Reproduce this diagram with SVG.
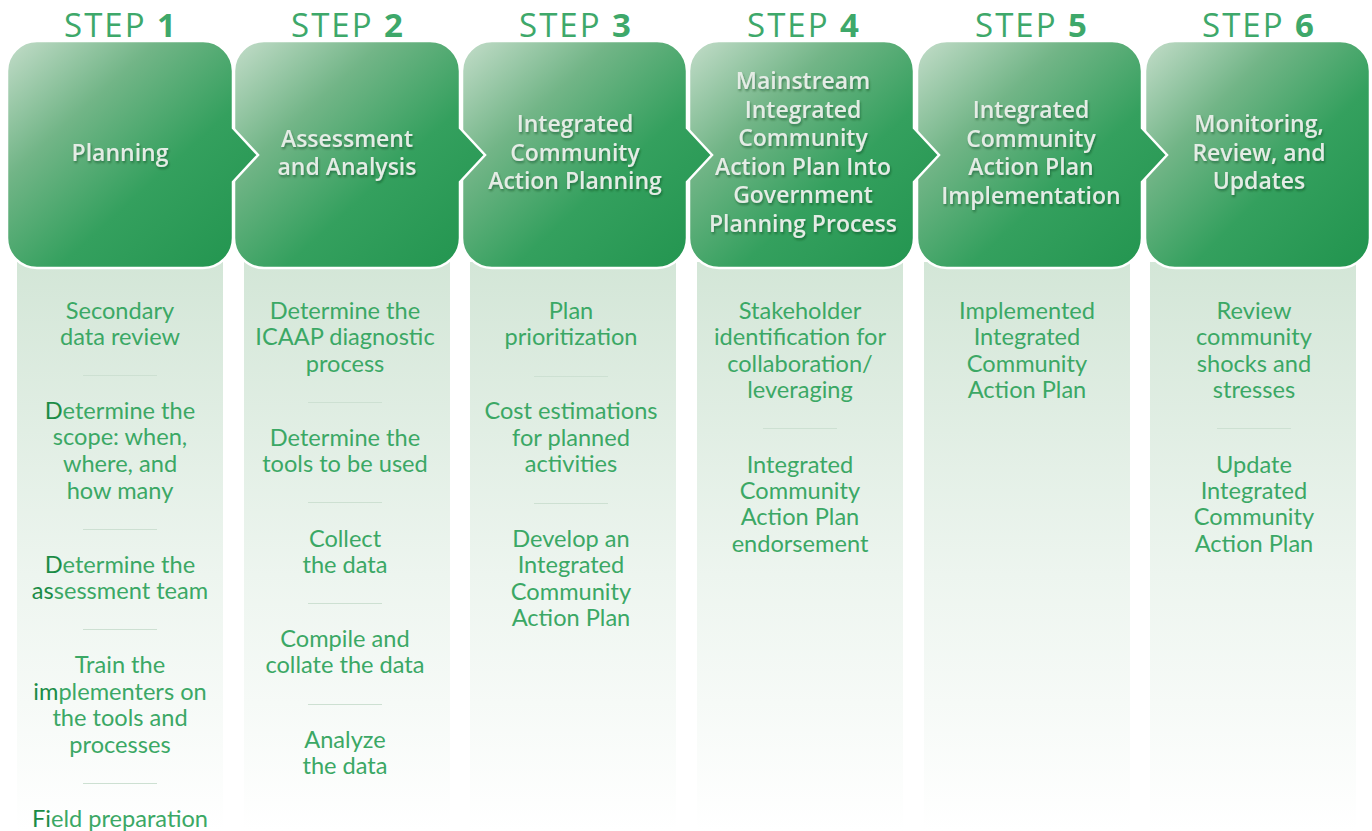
<svg xmlns="http://www.w3.org/2000/svg" width="1372" height="831" viewBox="0 0 1372 831">
  <defs>
    <linearGradient id="boxFill" x1="0" y1="0" x2="1" y2="1">
      <stop offset="0" stop-color="#c4ddca"/>
      <stop offset="0.3" stop-color="#72b587"/>
      <stop offset="0.6" stop-color="#34a05e"/>
      <stop offset="1" stop-color="#21944e"/>
    </linearGradient>
    <linearGradient id="colFill" x1="0" y1="0" x2="0" y2="1">
      <stop offset="0" stop-color="#d3e6d7"/>
      <stop offset="0.55" stop-color="#edf5ef"/>
      <stop offset="1" stop-color="#ffffff"/>
    </linearGradient>
    <filter id="textShadow" x="-10%" y="-20%" width="120%" height="150%">
      <feDropShadow dx="1" dy="2" stdDeviation="1.2" flood-color="#0b3b1c" flood-opacity="0.45"/>
    </filter>
  </defs>
  <style>
    .step { font-family: "Open Sans", "Noto Sans", sans-serif; font-size: 33px; letter-spacing: 2px; fill: #3ea86a; text-anchor: middle; }
    .step .num { font-weight: 700; }
    .box { fill: url(#boxFill); stroke: #ffffff; stroke-width: 2.5; stroke-linejoin: miter; }
    .title { font-family: "Open Sans", "Noto Sans", sans-serif; font-weight: 600; font-size: 23px; fill: #e4ece5; text-anchor: middle; filter: url(#textShadow); }
    .col { fill: url(#colFill); }
    .item { font-family: Lato, "Liberation Sans", sans-serif; font-size: 23.6px; fill: #3ba865; text-anchor: middle; }
    .item .em { fill: #1b8c46; }
    .sep { stroke: #cde0d2; stroke-width: 1; }
  </style>

  <rect width="1372" height="831" fill="#ffffff"/>

  <!-- column panels beneath the step boxes -->
  <g id="columns">
    <rect class="col" x="17" y="262" width="206" height="569"/>
    <rect class="col" x="244" y="262" width="206" height="569"/>
    <rect class="col" x="470" y="262" width="206" height="569"/>
    <rect class="col" x="697" y="262" width="206" height="569"/>
    <rect class="col" x="924" y="262" width="206" height="569"/>
    <rect class="col" x="1150" y="262" width="206" height="569"/>
  </g>

  <!-- step headings -->
  <g id="headings">
    <text class="step" x="121" y="37">STEP <tspan class="num">1</tspan></text>
    <text class="step" x="348" y="37">STEP <tspan class="num">2</tspan></text>
    <text class="step" x="576" y="37">STEP <tspan class="num">3</tspan></text>
    <text class="step" x="804" y="37">STEP <tspan class="num">4</tspan></text>
    <text class="step" x="1032" y="37">STEP <tspan class="num">5</tspan></text>
    <text class="step" x="1259" y="37">STEP <tspan class="num">6</tspan></text>
  </g>

  <!-- connectors: each box carries a chevron into the next one; drawn last-to-first so the chevron overlaps -->
  <g id="connectors"></g>

  <g id="step6">
    <path class="box" d="M1175,41 H1340 A30,30 0 0 1 1370,71 V238 A30,30 0 0 1 1340,268 H1175 A30,30 0 0 1 1145,238 V71 A30,30 0 0 1 1175,41 Z"/>
    <text class="title" x="1259" y="132">Monitoring,</text>
    <text class="title" x="1259" y="161">Review, and</text>
    <text class="title" x="1259" y="189">Updates</text>
  </g>
  <g id="step5">
    <path class="box" d="M947,41 H1112 A30,30 0 0 1 1142,71 V128 L1167,155 L1142,182 V238 A30,30 0 0 1 1112,268 H947 A30,30 0 0 1 917,238 V71 A30,30 0 0 1 947,41 Z"/>
    <text class="title" x="1031" y="118">Integrated</text>
    <text class="title" x="1031" y="147">Community</text>
    <text class="title" x="1031" y="175">Action Plan</text>
    <text class="title" x="1031" y="204">Implementation</text>
  </g>
  <g id="step4">
    <path class="box" d="M719,41 H884 A30,30 0 0 1 914,71 V128 L939,155 L914,182 V238 A30,30 0 0 1 884,268 H719 A30,30 0 0 1 689,238 V71 A30,30 0 0 1 719,41 Z"/>
    <text class="title" x="803" y="89">Mainstream</text>
    <text class="title" x="803" y="118">Integrated</text>
    <text class="title" x="803" y="146">Community</text>
    <text class="title" x="803" y="175">Action Plan Into</text>
    <text class="title" x="803" y="203">Government</text>
    <text class="title" x="803" y="232">Planning Process</text>
  </g>
  <g id="step3">
    <path class="box" d="M492,41 H657 A30,30 0 0 1 687,71 V128 L712,155 L687,182 V238 A30,30 0 0 1 657,268 H492 A30,30 0 0 1 462,238 V71 A30,30 0 0 1 492,41 Z"/>
    <text class="title" x="575" y="132">Integrated</text>
    <text class="title" x="575" y="161">Community</text>
    <text class="title" x="575" y="189">Action Planning</text>
  </g>
  <g id="step2">
    <path class="box" d="M264,41 H430 A30,30 0 0 1 460,71 V128 L485,155 L460,182 V238 A30,30 0 0 1 430,268 H264 A30,30 0 0 1 234,238 V71 A30,30 0 0 1 264,41 Z"/>
    <text class="title" x="347" y="147">Assessment</text>
    <text class="title" x="347" y="175">and Analysis</text>
  </g>
  <g id="step1">
    <path class="box" d="M37,41 H203 A30,30 0 0 1 233,71 V128 L258,155 L233,182 V238 A30,30 0 0 1 203,268 H37 A30,30 0 0 1 7,238 V71 A30,30 0 0 1 37,41 Z"/>
    <text class="title" x="120" y="161">Planning</text>
  </g>

  <!-- activity lists -->
  <g id="list1">
    <text class="item" x="120" y="319">Secondary</text>
    <text class="item" x="120" y="345">data review</text>
    <line class="sep" x1="83" y1="375.5" x2="157" y2="375.5"/>
    <text class="item" x="120" y="419"><tspan class="em">D</tspan>etermine the</text>
    <text class="item" x="120" y="445">scope: when,</text>
    <text class="item" x="120" y="472">where, and</text>
    <text class="item" x="120" y="499">how many</text>
    <line class="sep" x1="83" y1="529.5" x2="157" y2="529.5"/>
    <text class="item" x="120" y="573"><tspan class="em">D</tspan>etermine the</text>
    <text class="item" x="120" y="599"><tspan class="em">as</tspan>sessment team</text>
    <line class="sep" x1="83" y1="629.5" x2="157" y2="629.5"/>
    <text class="item" x="120" y="673">Train the</text>
    <text class="item" x="120" y="700"><tspan class="em">im</tspan>plementers on</text>
    <text class="item" x="120" y="726">the tools and</text>
    <text class="item" x="120" y="753">processes</text>
    <line class="sep" x1="83" y1="783.5" x2="157" y2="783.5"/>
    <text class="item" x="120" y="827"><tspan class="em">Fi</tspan>eld preparation</text>
  </g>
  <g id="list2">
    <text class="item" x="345" y="319">Determine the</text>
    <text class="item" x="345" y="345">ICAAP diagnostic</text>
    <text class="item" x="345" y="372">process</text>
    <line class="sep" x1="308" y1="402.5" x2="382" y2="402.5"/>
    <text class="item" x="345" y="446">Determine the</text>
    <text class="item" x="345" y="472">tools to be used</text>
    <line class="sep" x1="308" y1="502.5" x2="382" y2="502.5"/>
    <text class="item" x="345" y="547">Collect</text>
    <text class="item" x="345" y="573">the data</text>
    <line class="sep" x1="308" y1="603.5" x2="382" y2="603.5"/>
    <text class="item" x="345" y="647">Compile and</text>
    <text class="item" x="345" y="673">collate the data</text>
    <line class="sep" x1="308" y1="704.5" x2="382" y2="704.5"/>
    <text class="item" x="345" y="748">Analyze</text>
    <text class="item" x="345" y="774">the data</text>
  </g>
  <g id="list3">
    <text class="item" x="571" y="319">Plan</text>
    <text class="item" x="571" y="345">prioritization</text>
    <line class="sep" x1="534" y1="376.5" x2="608" y2="376.5"/>
    <text class="item" x="571" y="419">Cost estimations</text>
    <text class="item" x="571" y="446">for planned</text>
    <text class="item" x="571" y="472">activities</text>
    <line class="sep" x1="534" y1="503.5" x2="608" y2="503.5"/>
    <text class="item" x="571" y="547">Develop an</text>
    <text class="item" x="571" y="573">Integrated</text>
    <text class="item" x="571" y="600">Community</text>
    <text class="item" x="571" y="626">Action Plan</text>
  </g>
  <g id="list4">
    <text class="item" x="800" y="319">Stakeholder</text>
    <text class="item" x="800" y="345">identification for</text>
    <text class="item" x="800" y="372">collaboration/</text>
    <text class="item" x="800" y="398">leveraging</text>
    <line class="sep" x1="763" y1="428.5" x2="837" y2="428.5"/>
    <text class="item" x="800" y="473">Integrated</text>
    <text class="item" x="800" y="499">Community</text>
    <text class="item" x="800" y="525">Action Plan</text>
    <text class="item" x="800" y="552">endorsement</text>
  </g>
  <g id="list5">
    <text class="item" x="1027" y="319">Implemented</text>
    <text class="item" x="1027" y="345">Integrated</text>
    <text class="item" x="1027" y="372">Community</text>
    <text class="item" x="1027" y="398">Action Plan</text>
  </g>
  <g id="list6">
    <text class="item" x="1254" y="319">Review</text>
    <text class="item" x="1254" y="345">community</text>
    <text class="item" x="1254" y="372">shocks and</text>
    <text class="item" x="1254" y="398">stresses</text>
    <line class="sep" x1="1217" y1="428.5" x2="1291" y2="428.5"/>
    <text class="item" x="1254" y="473">Update</text>
    <text class="item" x="1254" y="499">Integrated</text>
    <text class="item" x="1254" y="525">Community</text>
    <text class="item" x="1254" y="552">Action Plan</text>
  </g>
</svg>
